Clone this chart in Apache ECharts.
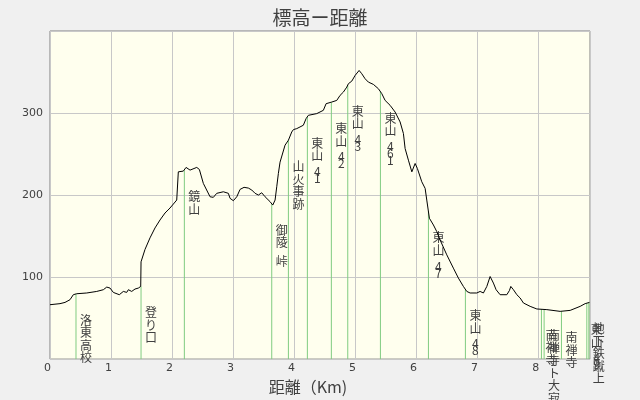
<!DOCTYPE html>
<html><head><meta charset="utf-8">
<script src="https://cdn.jsdelivr.net/npm/echarts/dist/echarts.min.js"></script>
<style>html,body{margin:0;padding:0;background:#f0f0f0}#c{width:640px;height:400px}</style>
</head><body><div id="c"></div>
<script>
// Profile: distance (km) and elevation (m)
var distKm = [0,0.164,0.246,0.328,0.382,0.438,0.602,0.766,0.874,0.930,0.984,1.038,1.136,1.202,1.257,1.284,1.339,1.393,1.448,1.487,1.492,1.557,1.639,1.721,1.803,1.885,1.967,2.077,2.103,2.185,2.230,2.295,2.405,2.448,2.513,2.623,2.677,2.733,2.759,2.841,2.869,2.923,2.951,3.005,3.061,3.115,3.180,3.251,3.307,3.361,3.415,3.470,3.525,3.607,3.651,3.689,3.716,3.743,3.770,3.852,3.907,3.962,3.989,4.044,4.152,4.197,4.234,4.372,4.480,4.525,4.618,4.700,4.754,4.808,4.864,4.890,4.946,5.000,5.066,5.110,5.164,5.218,5.300,5.382,5.438,5.492,5.520,5.574,5.656,5.738,5.792,5.820,5.874,5.930,5.984,6.021,6.093,6.148,6.175,6.218,6.284,6.339,6.393,6.503,6.611,6.693,6.775,6.831,6.885,6.995,7.049,7.103,7.159,7.213,7.267,7.311,7.377,7.487,7.530,7.552,7.595,7.651,7.705,7.759,7.869,7.979,8.143,8.361,8.525,8.689,8.770,8.841];
var elevM = [66.3,67.6,69.1,72.4,78.5,79.7,80.6,82.5,84.6,87.8,86.6,81.3,78.5,82.5,81.3,84.6,82.5,85.4,86.6,88.6,118.6,133.7,147.8,159.9,169.6,178.1,184.2,193.9,228.3,229.2,233.7,230.4,233.7,231.2,214.2,197.9,197.2,202.1,204.0,204.0,205.2,202.1,196.0,193.1,197.9,206.9,209.4,208.5,206.1,202.1,200.0,202.8,197.9,191.9,187.8,193.9,210.1,226.4,240.1,260.8,266.8,276.9,279.8,281.0,285.1,293.2,297.2,299.3,303.3,311.4,313.4,315.4,321.5,325.5,331.6,335.7,338.9,345.8,351.9,347.9,341.8,337.7,334.9,329.6,323.6,315.4,317.4,309.4,301.2,289.1,275.0,256.7,242.5,228.3,238.5,232.4,216.2,208.1,193.9,171.7,163.5,155.4,145.3,127.1,110.9,98.8,88.6,82.5,80.6,80.6,82.5,80.6,88.6,100.7,92.7,84.6,78.5,78.5,83.7,88.6,84.6,78.5,74.5,68.4,64.3,61.1,60.3,58.2,59.4,64.3,67.6,69.1];

// Landmarks along the route
var markerNames = ['洛東高校','登り口','鏡山','御陵 峠','山火事跡','東山41','東山42','東山43','東山461','東山47','東山48','南禅寺','南禅寺ト大寂','南禅寺','東山49','地下鉄蹴上'];
var markerKm = [0.426,1.492,2.202,3.634,3.907,4.218,4.611,4.880,5.415,6.202,6.808,8.054,8.098,8.382,8.798,8.831];
var markerElev = [79.5,88.6,230,189,266.8,295,313,334,326,180,85,61,60.5,58,68,69];

var xTicks = [0,1,2,3,4,5,6,7,8];
var yTicks = [100,200,300];

var TXT = '#404040';
var CJK = '"Noto Sans CJK JP","Noto Sans CJK SC",sans-serif';

function vText(s){
  var parts = [], prevAscii = false;
  for (var ch of s){
    if (ch === ' ') { parts.push('{s| }'); prevAscii = false; }
    else if (/[0-9A-Za-z\-]/.test(ch)) {
      if (!prevAscii) parts.push('{s| }');
      parts.push('{d|' + ch + '}');
      prevAscii = true;
    } else { parts.push('{k|' + ch + '}'); prevAscii = false; }
  }
  return parts.join('\n');
}

var profile = distKm.map(function(d,i){ return [d, elevM[i]]; });
var markers = markerKm.map(function(d,i){ return [d, markerElev[i], markerNames[i]]; });

var chart = echarts.init(document.getElementById('c'), null, {renderer:'canvas'});
chart.setOption({
  backgroundColor: '#f0f0f0',
  animation: false,
  title: {
    text: '標高ー距離', left: 'center', top: 3,
    textStyle: {fontSize: 19, fontWeight: 'normal', color: TXT, fontFamily: CJK}
  },
  grid: {
    left: 50, right: 50, top: 31, bottom: 40,
    show: true, backgroundColor: '#ffffee', borderColor: '#808080', borderWidth: 1
  },
  xAxis: {
    type: 'value', min: 0, max: 8.85, interval: 1,
    name: '距離（Km)', nameLocation: 'middle', nameGap: 16,
    nameTextStyle: {fontSize: 16, color: TXT, fontFamily: CJK, padding: [0, 24, 0, 0]},
    axisLine: {show: false}, axisTick: {show: false},
    axisLabel: {
      color: TXT, fontSize: 11, margin: 4, fontFamily: 'DejaVu Sans', padding: [0, 5, 0, 0],
      formatter: function(v){ return xTicks.indexOf(v) >= 0 ? String(v) : ''; }
    },
    splitLine: {show: true, lineStyle: {color: '#c8c8c8', width: 1}}
  },
  yAxis: {
    type: 'value', min: 0, max: 400, interval: 100,
    axisLine: {show: false}, axisTick: {show: false},
    axisLabel: {
      color: TXT, fontSize: 11, margin: 7, fontFamily: 'DejaVu Sans',
      formatter: function(v){ return yTicks.indexOf(v) >= 0 ? String(v) : ''; }
    },
    splitLine: {show: true, lineStyle: {color: '#c8c8c8', width: 1}}
  },
  series: [
    {
      type: 'custom',
      clip: false,
      data: markers,
      z: 2,
      renderItem: function(params, api){
        var x = api.value(0), h = api.value(1);
        var name = markers[params.dataIndex][2];
        var p0 = api.coord([x, 0]), p1 = api.coord([x, h]);
        return {
          type: 'group',
          children: [
            {type: 'line', shape: {x1: p0[0], y1: p0[1], x2: p1[0], y2: p1[1]},
             style: {stroke: '#80cc80', lineWidth: 1}},
            {type: 'text', x: p1[0] + 10, y: p1[1] + 20, z2: 10,
             style: {
               text: vText(name), align: 'center', verticalAlign: 'top',
               fill: TXT, fontSize: 12, fontFamily: CJK,
               rich: {
                 k: {fontSize: 12, lineHeight: 12.5, fill: TXT, fontFamily: CJK},
                 d: {fontSize: 12, lineHeight: 7, fill: TXT, fontFamily: CJK},
                 s: {fontSize: 6, lineHeight: 6, fill: TXT}
               }
             }}
          ]
        };
      }
    },
    {
      type: 'line',
      data: profile,
      showSymbol: false,
      symbol: 'none',
      z: 3,
      lineStyle: {color: '#000000', width: 1},
      silent: true
    }
  ]
});
</script>
</body></html>
